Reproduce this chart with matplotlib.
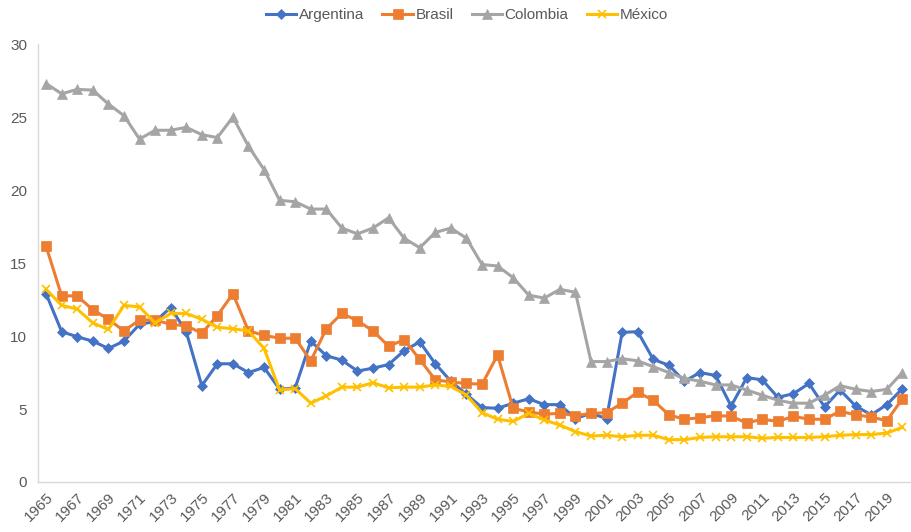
import matplotlib.pyplot as plt

plt.rcParams['font.family'] = ['Liberation Sans', 'DejaVu Sans']

# Años y series
anios = list(range(1965, 2021))

argentina = [12.9, 10.3, 9.95, 9.65, 9.15, 9.65, 10.8, 11.0, 11.95, 10.3,
             6.6, 8.1, 8.1, 7.5, 7.85, 6.35, 6.45, 9.65, 8.65, 8.35,
             7.6, 7.8, 8.05, 9.0, 9.6, 8.1, 6.9, 6.0, 5.1, 5.05,
             5.4, 5.7, 5.3, 5.3, 4.35, 4.7, 4.35, 10.25, 10.3, 8.4,
             8.0, 6.9, 7.5, 7.3, 5.2, 7.15, 7.0, 5.8, 6.05, 6.75,
             5.15, 6.3, 5.2, 4.6, 5.3, 6.4]

brasil = [16.15, 12.75, 12.75, 11.8, 11.15, 10.35, 11.1, 11.1, 10.8, 10.7,
          10.2, 11.4, 12.9, 10.35, 10.05, 9.85, 9.85, 8.3, 10.5, 11.55,
          11.05, 10.35, 9.3, 9.75, 8.4, 7.0, 6.85, 6.75, 6.7, 8.7,
          5.05, 4.8, 4.65, 4.7, 4.55, 4.7, 4.75, 5.4, 6.15, 5.6,
          4.6, 4.3, 4.4, 4.55, 4.5, 4.05, 4.3, 4.15, 4.5, 4.3,
          4.3, 4.85, 4.6, 4.45, 4.2, 5.7]

colombia = [27.3, 26.6, 26.9, 26.85, 25.9, 25.1, 23.5, 24.1, 24.1, 24.3,
            23.8, 23.6, 25.0, 23.0, 21.4, 19.3, 19.2, 18.7, 18.7, 17.4,
            17.0, 17.4, 18.1, 16.7, 16.05, 17.1, 17.4, 16.7, 14.9, 14.8,
            14.0, 12.8, 12.6, 13.2, 13.0, 8.25, 8.25, 8.45, 8.3, 7.9,
            7.5, 7.1, 6.9, 6.65, 6.65, 6.3, 5.95, 5.6, 5.4, 5.4,
            5.95, 6.6, 6.35, 6.2, 6.35, 7.5]

mexico = [13.2, 12.1, 11.85, 10.9, 10.45, 12.1, 12.0, 10.9, 11.55, 11.55,
          11.15, 10.6, 10.5, 10.35, 9.15, 6.3, 6.4, 5.4, 5.9, 6.5,
          6.5, 6.8, 6.45, 6.5, 6.5, 6.65, 6.55, 5.95, 4.75, 4.3,
          4.15, 4.7, 4.25, 3.9, 3.45, 3.15, 3.2, 3.1, 3.2, 3.2,
          2.9, 2.9, 3.05, 3.1, 3.1, 3.1, 3.0, 3.05, 3.05, 3.05,
          3.1, 3.2, 3.25, 3.25, 3.35, 3.75]

series = [
    ('Argentina', argentina, '#4472C4', 'D', 5.5),
    ('Brasil', brasil, '#ED7D31', 's', 7),
    ('Colombia', colombia, '#A5A5A5', '^', 7),
    ('México', mexico, '#FFC000', 'x', 6),
]

fig = plt.figure(figsize=(9.12, 5.32), dpi=100)
ax = fig.add_axes([0.042, 0.094, 0.956, 0.823])

pos = list(range(len(anios)))
for nombre, valores, color, marcador, tam in series:
    ax.plot(pos, valores, color=color, lw=2.2, marker=marcador,
            markersize=tam, markeredgewidth=1.2 if marcador == 'x' else 0.5,
            markeredgecolor=color, label=nombre)

ax.set_xlim(-0.5, len(anios) - 0.5)
ax.set_ylim(0, 30)
ax.set_yticks(range(0, 31, 5))
ax.set_xticks(pos[::2])
ax.set_xticklabels([str(a) for a in anios[::2]], rotation=45, ha='right',
                   va='top', rotation_mode='anchor')
ax.tick_params(axis='both', length=0, labelsize=11, colors='#595959')
ax.tick_params(axis='x', pad=6)
ax.tick_params(axis='y', pad=8)

for lado in ['top', 'right']:
    ax.spines[lado].set_visible(False)
for lado in ['left', 'bottom']:
    ax.spines[lado].set_color('#D9D9D9')
    ax.spines[lado].set_linewidth(1)

fig.legend(loc='center', bbox_to_anchor=(0.512, 0.972), ncol=4, frameon=False,
           fontsize=11, labelcolor='#595959', handlelength=2.0,
           columnspacing=1.2, handletextpad=0.15)

fig.savefig('out.png', dpi=100)
